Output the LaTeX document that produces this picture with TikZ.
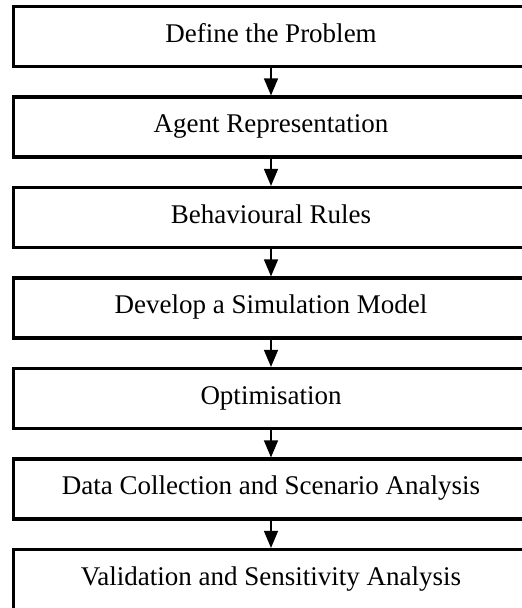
\documentclass[tikz,border=0pt]{standalone}
\usepackage{fontspec}
\setmainfont{Liberation Serif}
\usetikzlibrary{arrows.meta,positioning}
\tikzset{
  stage/.style={draw, rectangle, line width=3.2pt, minimum width=515pt, minimum height=60pt,
    text height=19pt, text depth=8pt}
}
\begin{document}
\begin{tikzpicture}[>={Triangle[width=14pt,length=17pt]}, node distance=90.5pt,
    font=\fontsize{27}{30}\selectfont]
    \useasboundingbox (0,0) rectangle (522pt,-608pt);
    \clip (0,0) rectangle (522pt,-608pt);
    \node[stage] (define) at (271pt,-36.5pt) {Define the Problem};
    \node[stage, below of=define] (agent) {Agent Representation};
    \node[stage, below of=agent] (rules) {Behavioural Rules};
    \node[stage, below of=rules] (model) {Develop a Simulation Model};
    \node[stage, below of=model] (optim) {Optimisation};
    \node[stage, below of=optim] (data) {Data Collection and Scenario Analysis};
    \node[stage, below of=data] (valid) {Validation and Sensitivity Analysis};
    \draw[->, line width=1.4pt] (define) -- (agent);
    \draw[->, line width=1.4pt] (agent) -- (rules);
    \draw[->, line width=1.4pt] (rules) -- (model);
    \draw[->, line width=1.4pt] (model) -- (optim);
    \draw[->, line width=1.4pt] (optim) -- (data);
    \draw[->, line width=1.4pt] (data) -- (valid);
\end{tikzpicture}
\end{document}
